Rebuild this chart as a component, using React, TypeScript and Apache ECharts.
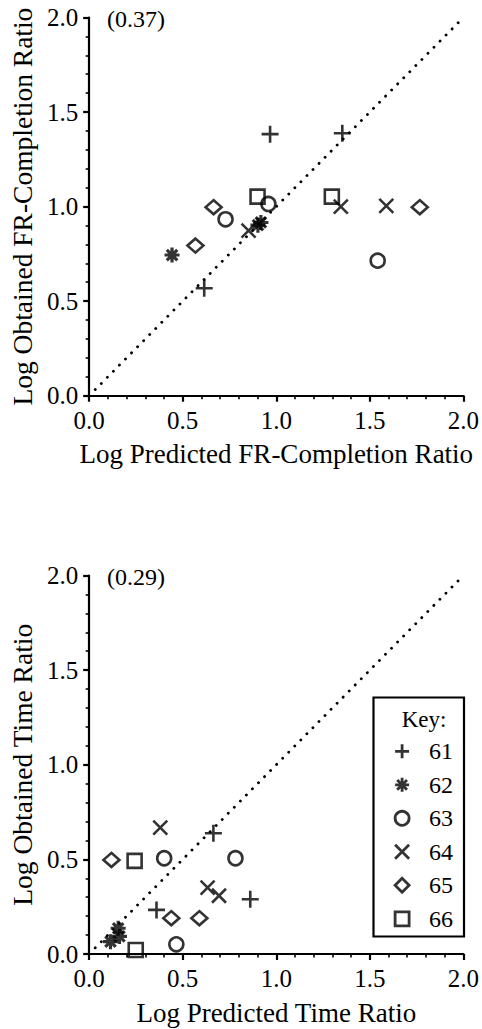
import React, { useEffect, useRef } from "react";
import * as echarts from "echarts";

const SERIF = "Liberation Serif";

const subjects = ["61", "62", "63", "64", "65", "66"];

// Top panel: Log Predicted FR-Completion Ratio (x) vs Log Obtained FR-Completion Ratio (y)
const fr61 = [[0.967, 1.383], [1.353, 1.388], [0.615, 0.568]];
const fr62 = [[0.443, 0.744], [0.902, 0.902], [0.918, 0.916]];
const fr63 = [[0.958, 1.014], [0.729, 0.933], [1.542, 0.714]];
const fr64 = [[1.345, 1.0], [1.588, 1.004], [0.852, 0.873]];
const fr65 = [[0.665, 0.997], [0.568, 0.794], [1.767, 0.997]];
const fr66 = [[0.9, 1.053], [1.297, 1.053]];

// Bottom panel: Log Predicted Time Ratio (x) vs Log Obtained Time Ratio (y)
const tr61 = [[0.664, 0.638], [0.861, 0.289], [0.36, 0.233]];
const tr62 = [[0.155, 0.136], [0.114, 0.065], [0.162, 0.093]];
const tr63 = [[0.401, 0.506], [0.782, 0.506], [0.466, 0.051]];
const tr64 = [[0.38, 0.668], [0.633, 0.351], [0.694, 0.308]];
const tr65 = [[0.119, 0.497], [0.439, 0.189], [0.589, 0.189]];
const tr66 = [[0.243, 0.492], [0.249, 0.021]];

const diagonal = [[0, 0], [2, 2]];
const topNote = "(0.37)";
const bottomNote = "(0.29)";
const topXTitle = "Log Predicted FR-Completion Ratio";
const topYTitle = "Log Obtained FR-Completion Ratio";
const bottomXTitle = "Log Predicted Time Ratio";
const bottomYTitle = "Log Obtained Time Ratio";

const symbols = [
  "path://M0,5L10,5M5,0L5,10",
  "path://M5,0L5,10M0,5L10,5M1.5,1.5L8.5,8.5M8.5,1.5L1.5,8.5",
  "circle",
  "path://M0,0L10,10M10,0L0,10",
  "diamond",
  "rect",
];
const sizes: any[] = [17, 15, 14, 14, [16, 14], 14];
const widths = [2.6, 3.2, 2.6, 2.6, 2.6, 2.6];

function App() {
  const ref = useRef<HTMLDivElement>(null);
  useEffect(() => {
    if (!ref.current) return;
    const chart = echarts.init(ref.current, null, { renderer: "svg" });
    const frData = [fr61, fr62, fr63, fr64, fr65, fr66];
    const trData = [tr61, tr62, tr63, tr64, tr65, tr66];

    const makeX = (g: number, name: string) => ({
      type: "value",
      gridIndex: g,
      min: 0,
      max: 2,
      interval: 0.5,
      name,
      nameLocation: "middle",
      nameGap: 45,
      nameTextStyle: { fontFamily: SERIF, fontSize: 27, color: "#000" },
      axisLine: { show: true, onZero: false, lineStyle: { color: "#000", width: 2.2 } },
      axisTick: { show: true, length: 6, lineStyle: { color: "#000", width: 2.2 } },
      minorTick: { show: true, splitNumber: 5, length: 3.5, lineStyle: { color: "#000", width: 1.6 } },
      splitLine: { show: false },
      axisLabel: {
        fontFamily: SERIF,
        fontSize: 25,
        color: "#000",
        margin: 12,
        formatter: (v: number) => v.toFixed(1),
      },
    });
    const makeY = (g: number, name: string) => ({
      type: "value",
      gridIndex: g,
      min: 0,
      max: 2,
      interval: 0.5,
      name,
      nameLocation: "middle",
      nameGap: 52,
      nameTextStyle: { fontFamily: SERIF, fontSize: 27.5, color: "#000" },
      axisLine: { show: true, onZero: false, lineStyle: { color: "#000", width: 2.2 } },
      axisTick: { show: true, length: 6, lineStyle: { color: "#000", width: 2.2 } },
      minorTick: { show: true, splitNumber: 5, length: 3.5, lineStyle: { color: "#000", width: 1.6 } },
      splitLine: { show: false },
      axisLabel: {
        fontFamily: SERIF,
        fontSize: 25,
        color: "#000",
        margin: 11,
        formatter: (v: number) => v.toFixed(1),
      },
    });

    const series: any[] = [];
    [frData, trData].forEach((set, g) => {
      series.push({
        type: "line",
        xAxisIndex: g,
        yAxisIndex: g,
        data: diagonal,
        symbol: "none",
        silent: true,
        lineStyle: { color: "#000", width: 2.8, type: [0.1, 8.5], cap: "round" },
        z: 1,
      });
      set.forEach((d, i) => {
        series.push({
          type: "scatter",
          name: subjects[i],
          xAxisIndex: g,
          yAxisIndex: g,
          data: d,
          symbol: symbols[i],
          symbolSize: sizes[i],
          itemStyle: { color: "rgba(0,0,0,0)", borderColor: "#000", borderWidth: widths[i] },
          z: 3,
        });
      });
    });

    chart.setOption({
      animation: false,
      backgroundColor: "#fff",
      grid: [
        { left: 86.7, top: 17.5, width: 379.3, height: 378.2 },
        { left: 86.7, top: 575.5, width: 379.3, height: 378.5 },
      ],
      xAxis: [makeX(0, topXTitle), makeX(1, bottomXTitle)],
      yAxis: [makeY(0, topYTitle), makeY(1, bottomYTitle)],
      legend: {
        orient: "vertical",
        left: 393.7,
        top: 739.3,
        padding: 0,
        itemWidth: 14,
        itemHeight: 14,
        itemGap: 9.5,
        selectedMode: false,
        data: subjects.map((s, i) => ({ name: s, icon: symbols[i] })),
        itemStyle: { color: "rgba(0,0,0,0)", borderColor: "#000", borderWidth: 2.8 },
        textStyle: {
          fontFamily: SERIF,
          fontSize: 24,
          lineHeight: 24,
          color: "#000",
          padding: [0, 0, 0, 15],
        },
      },
      graphic: [
        {
          type: "text",
          left: 107,
          top: 7,
          style: { text: topNote, fontFamily: SERIF, fontSize: 24, fill: "#000" },
        },
        {
          type: "text",
          left: 107,
          top: 565,
          style: { text: bottomNote, fontFamily: SERIF, fontSize: 24, fill: "#000" },
        },
        {
          type: "rect",
          shape: { x: 373.5, y: 697.5, width: 90.5, height: 239 },
          style: { fill: "#fff", stroke: "#000", lineWidth: 2.2 },
          z: 0,
          zlevel: 0,
        },
        {
          type: "text",
          x: 424,
          y: 719,
          style: {
            text: "Key:",
            fontFamily: SERIF,
            fontSize: 23,
            fill: "#000",
            align: "center",
            verticalAlign: "middle",
          },
        },
      ],
      series,
    });
    return () => chart.dispose();
  }, []);
  return (
    <div
      ref={ref}
      style={{ position: "absolute", left: 0, top: 0, width: 482, height: 1029 }}
    />
  );
}

export default App;
